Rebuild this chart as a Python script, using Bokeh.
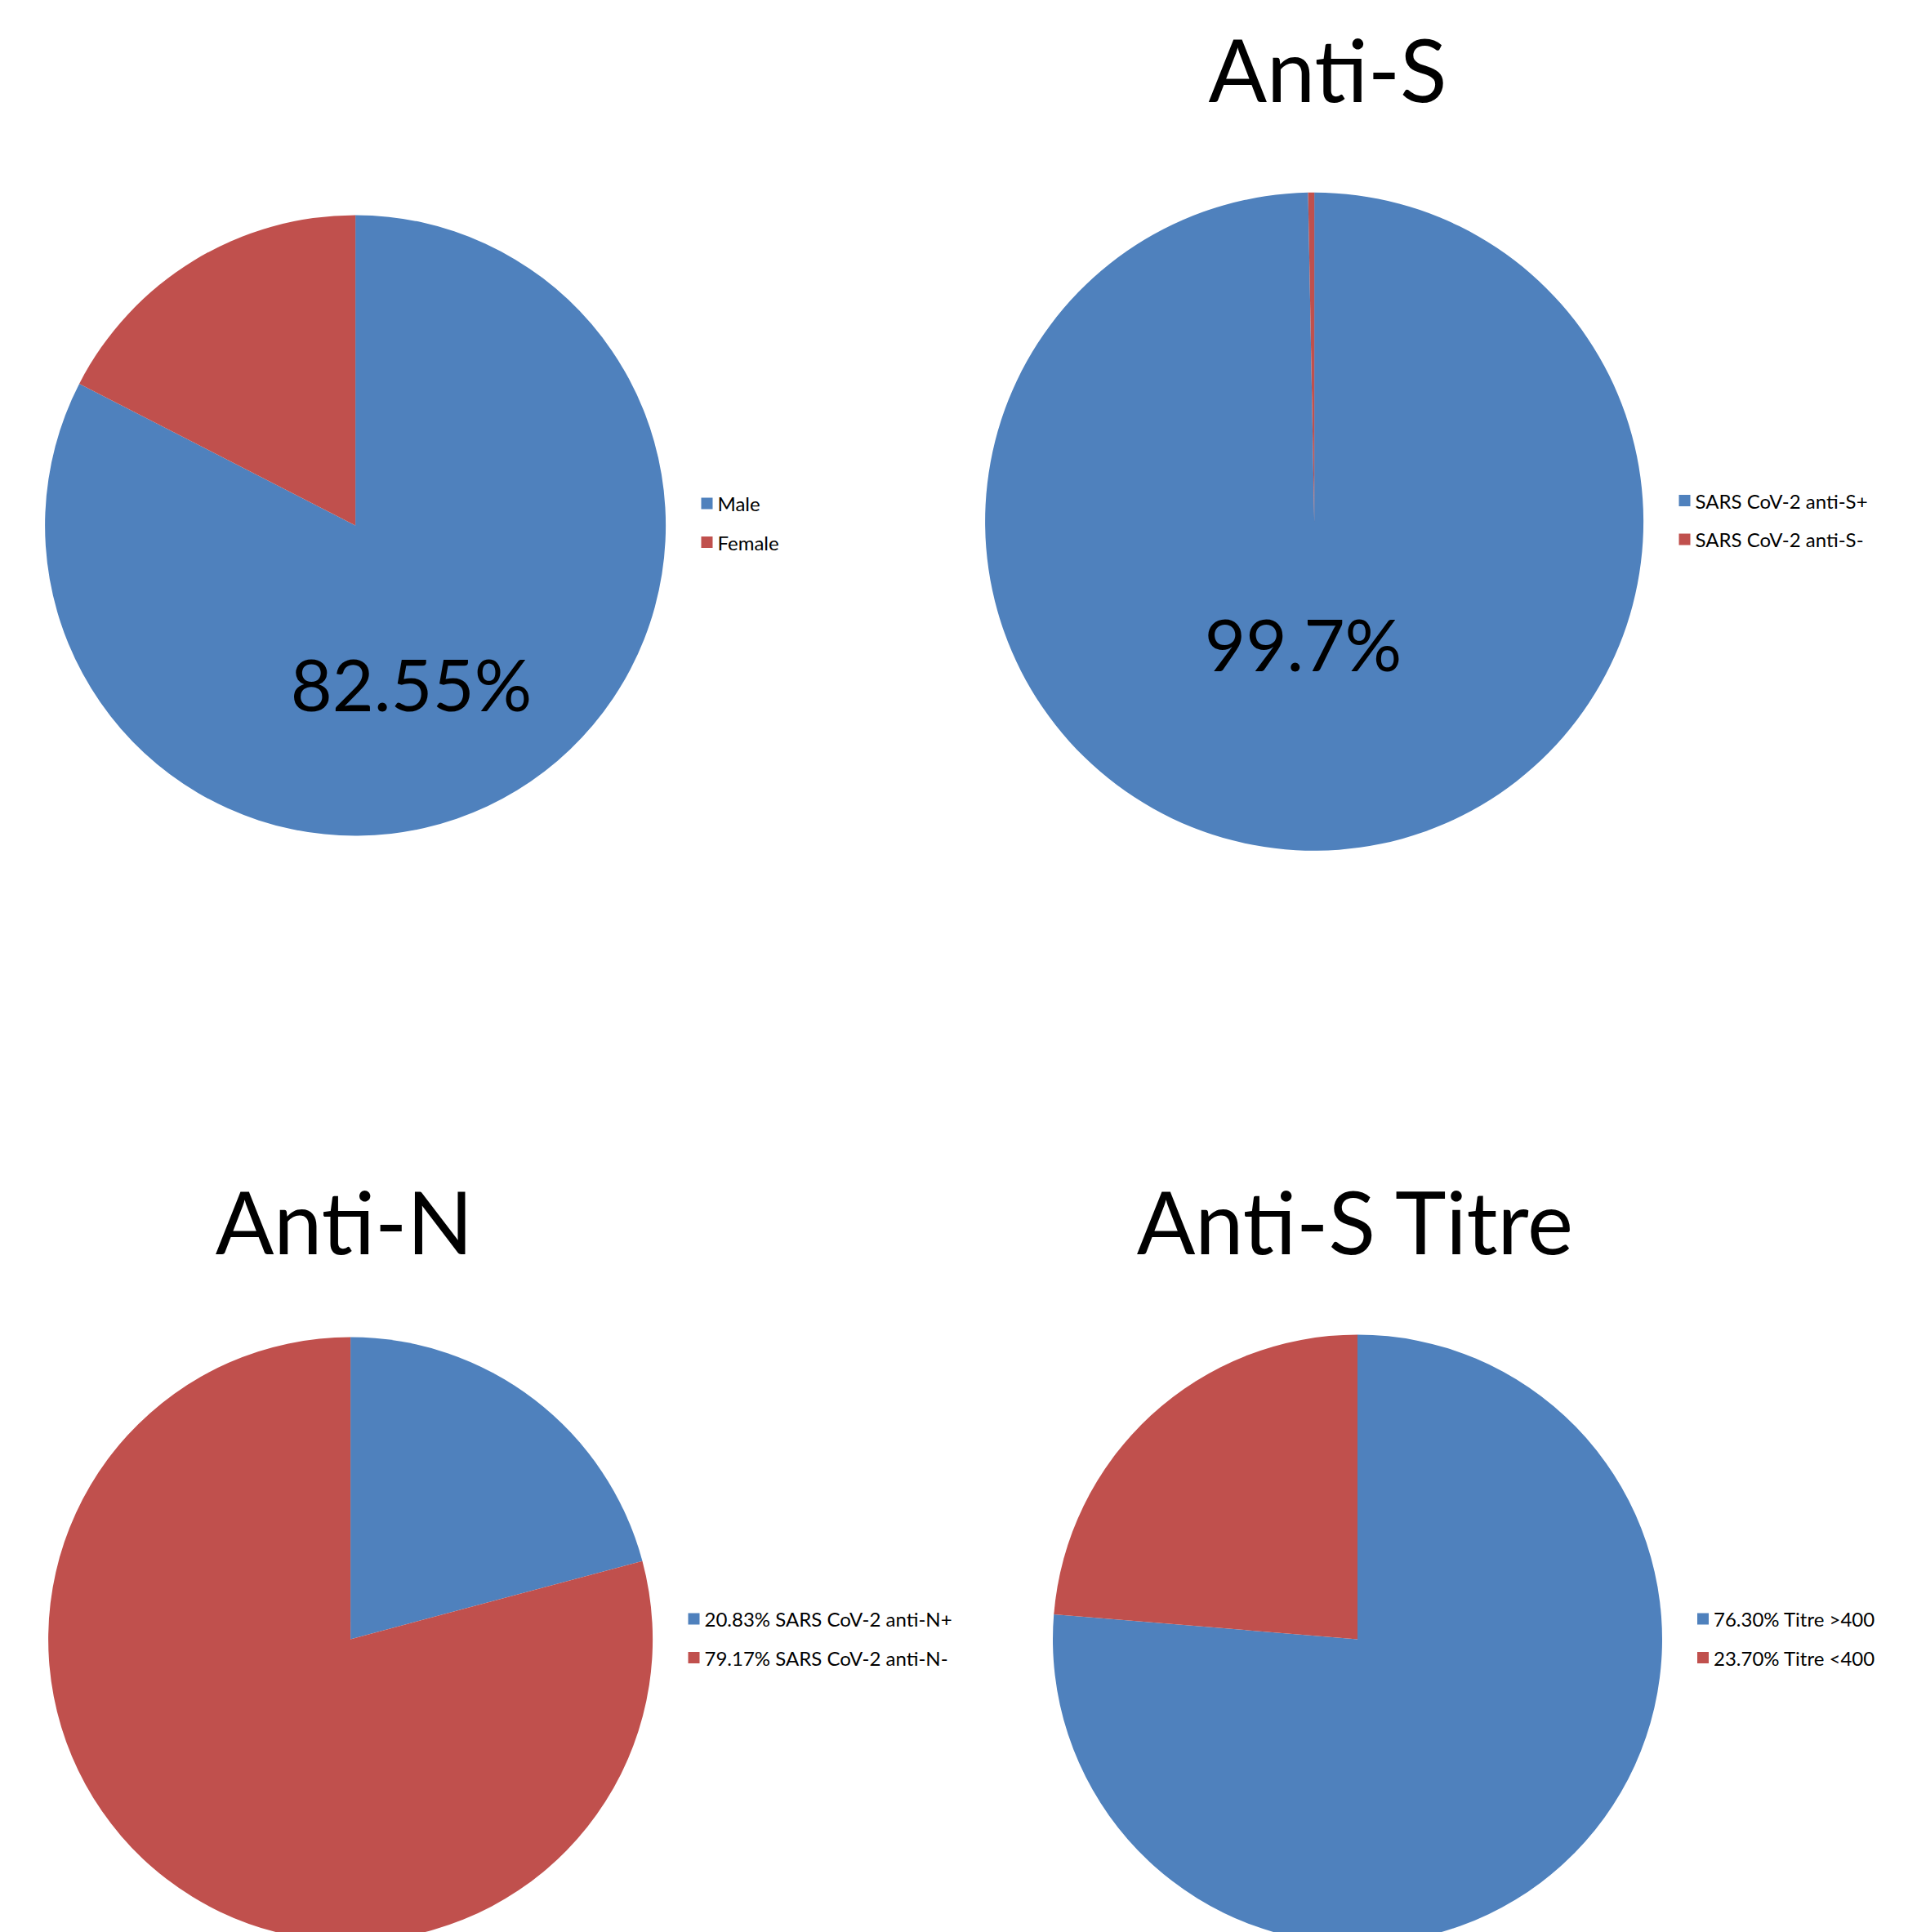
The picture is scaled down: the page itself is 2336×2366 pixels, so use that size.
import math
from bokeh.plotting import figure
from bokeh.models import Range1d, ColumnDataSource
from bokeh.core.properties import value
from bokeh.embed import file_html
from bokeh.resources import INLINE

# ---- data ----
sex_labels = ["Male", "Female"]
sex_values = [82.55, 17.45]

anti_s_labels = ["SARS CoV-2 anti-S+", "SARS CoV-2 anti-S-"]
anti_s_values = [99.7, 0.3]

anti_n_labels = ["20.83% SARS CoV-2 anti-N+", "79.17% SARS CoV-2 anti-N-"]
anti_n_values = [20.83, 79.17]

titre_labels = ["76.30% Titre >400", "23.70% Titre <400"]
titre_values = [76.30, 23.70]

colors = ["#4F81BD", "#C0504D"]
FONT = "Lato"

W, H = 2336, 2366
p = figure(width=W, height=H, output_backend="svg", toolbar_location=None,
           x_range=Range1d(0, W), y_range=Range1d(0, H),
           min_border=0, min_border_left=0, min_border_right=0,
           min_border_top=0, min_border_bottom=0)
p.axis.visible = False
p.grid.visible = False
p.outline_line_color = None
p.background_fill_color = "white"


def Y(y):
    return H - y


def baseline_text(txt, x, base, size):
    # place text so that its alphabetic baseline sits at pixel row `base`
    p.text(x=[x], y=[Y(base - 0.395 * size)], text=[txt], text_font=value(FONT),
           text_font_size="%dpx" % size, text_baseline="alphabetic", text_align="center",
           text_color="#000000")


def pie(values, labels, cx, cy, r, legend_x, legend_y, title=None, title_xy=None,
        big_label=None, big_xy=None, big_size=None):
    total = float(sum(values))
    cum = 0.0
    starts, ends = [], []
    for v in values:
        c0 = cum / total
        cum += v
        c1 = cum / total
        starts.append(math.pi / 2 - 2 * math.pi * c1)
        ends.append(math.pi / 2 - 2 * math.pi * c0)
    src = ColumnDataSource(dict(start=starts, end=ends, color=colors[:len(values)]))
    p.wedge(x=cx, y=Y(cy), radius=r, start_angle="start", end_angle="end",
            fill_color="color", line_color=None, source=src)
    # legend
    for i, lab in enumerate(labels):
        ly = legend_y + i * 47.5
        p.rect(x=legend_x, y=Y(ly), width=14, height=14, fill_color=colors[i],
               line_color=None)
        p.text(x=[legend_x + 13], y=[Y(ly)], text=[lab], text_font=value(FONT),
               text_font_size="24px", text_baseline="middle", text_align="left",
               text_color="#000000")
    if title:
        baseline_text(title, title_xy[0], title_xy[1], 106)
    if big_label:
        baseline_text(big_label, big_xy[0], big_xy[1], big_size)


pie(sex_values, sex_labels, 434.6, 643, 380, 865, 616,
    big_label="%.2f%%" % sex_values[0], big_xy=(503, 871), big_size=88)
pie(anti_s_values, anti_s_labels, 1608.6, 638.3, 403, 2062, 612.5,
    title="Anti-S", title_xy=(1625, 125),
    big_label="%.1f%%" % anti_s_values[0], big_xy=(1595, 822), big_size=87)
pie(anti_n_values, anti_n_labels, 428.6, 2007, 370, 849, 1982,
    title="Anti-N", title_xy=(421, 1536))
pie(titre_values, titre_labels, 1661.5, 2007, 373, 2084.5, 1982,
    title="Anti-S Titre", title_xy=(1660, 1536))

open("out.html", "w").write(file_html(p, INLINE))
